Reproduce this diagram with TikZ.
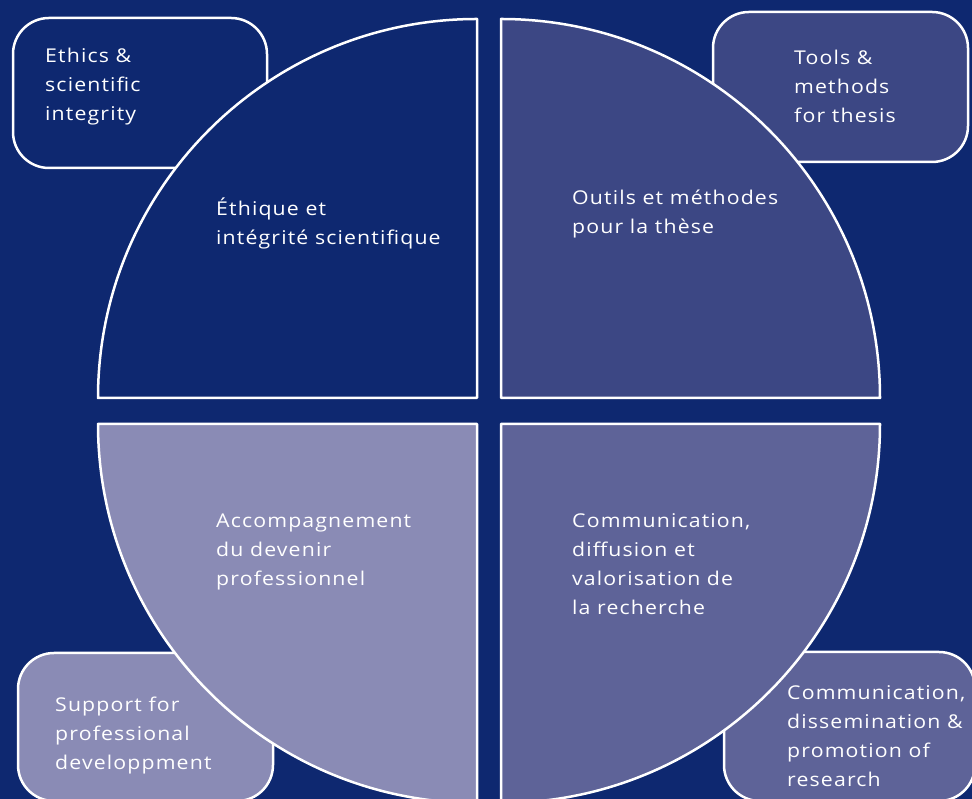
\documentclass[tikz,border=0pt]{standalone}
\usepackage{fontspec}
\setmainfont{Open Sans}[FakeStretch=1.12, LetterSpace=6]
\definecolor{navy}{HTML}{0E2870}
\definecolor{quadtr}{HTML}{3C4784}
\definecolor{quadbr}{HTML}{5E6398}
\definecolor{quadbl}{HTML}{8A8BB5}
\begin{document}
\begin{tikzpicture}[x=1pt, y=1pt,
        quad/.style={draw=white, line width=2.5pt, line join=round},
        tag/.style={draw=white, line width=2.5pt, rounded corners=36pt},
        label/.style={text=white, anchor=base west, align=left, inner sep=0pt,
            font=\fontsize{19}{29}\selectfont}
    ]
    \useasboundingbox (0,0) rectangle (972,799);
    \fill[navy] (0,0) rectangle (972,799);

    % Define boxes
    \draw[tag, fill=navy] (13,631) rectangle (267,781);
    \draw[tag, fill=quadtr] (713,637) rectangle (968,787);
    \draw[tag, fill=quadbl] (18,-2) rectangle (273,146);
    \draw[tag, fill=quadbr] (724,-2) rectangle (975,147);

    % Define quadrants
    \draw[quad, fill=navy] (477,401) -- (98,401) arc (180:90:379) -- cycle;
    \draw[quad, fill=quadtr] (501,401) -- (501,780) arc (90:0:379) -- cycle;
    \draw[quad, fill=quadbl] (477,375) -- (98,375) arc (180:270:379) -- cycle;
    \draw[quad, fill=quadbr] (501,375) -- (880,375) arc (0:-90:379) -- cycle;

    % Define labels (anchored at the last line)
    \node[label] (ethics) at (45,678) {Ethics \&\\scientific\\integrity};
    \node[label] (tools) at (794,676) {Tools \&\\methods\\for thesis};
    \node[label] (support) at (55,29) {Support for\\professional\\developpment};
    \node[label] (dissem) at (787,12) {Communication,\\dissemination \&\\promotion of\\research};
    \node[label] (ethique) at (216,554) {Éthique et\\intégrité scientifique};
    \node[label] (outils) at (572,565) {Outils et méthodes\\pour la thèse};
    \node[label] (accomp) at (216,213) {Accompagnement\\du devenir\\professionnel};
    \node[label] (comm) at (572,184) {Communication,\\diffusion et\\valorisation de\\la recherche};

    \end{tikzpicture}
\end{document}
